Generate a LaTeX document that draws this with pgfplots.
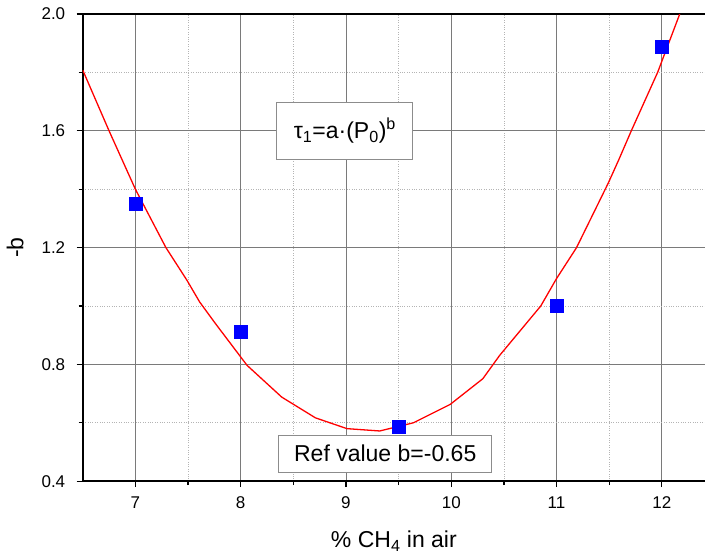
\documentclass[border=0pt]{standalone}
\usepackage{fontspec}
\setmainfont{Liberation Sans}
\usepackage{pgfplots}
\pgfplotsset{compat=1.18}
\definecolor{majgrid}{HTML}{7A7A7A}
\definecolor{mingrid}{HTML}{B4B4B4}
\definecolor{boxline}{HTML}{8C8C8C}
\begin{document}
\begin{tikzpicture}
\begin{axis}[
  scale only axis, width=622pt, height=467pt,
  xmin=6.5, xmax=12.41, ymin=0.4, ymax=2.0,
  xtick={7,8,9,10,11,12}, ytick={0.4,0.8,1.2,1.6,2.0},
  minor x tick num=1, minor y tick num=1,
  grid=both,
  major grid style={draw=majgrid, line width=0.9pt},
  minor grid style={draw=mingrid, dotted, line width=0.7pt},
  axis x line=box, axis y line=left,
  axis line style={-, line width=1.8pt, black},
  xtick pos=bottom, ytick pos=left,
  tick align=outside, major tick length=6pt, minor tick length=4pt,
  tick style={black, line width=1.2pt},
  yticklabel style={/pgf/number format/fixed, /pgf/number format/fixed zerofill,
    /pgf/number format/precision=1, xshift=-8pt},
  /pgf/number format/assume math mode=true,
  tick label style={font=\fontsize{17}{20}\selectfont},
  xticklabel style={yshift=-6pt},
  label style={font=\fontsize{23}{27}\selectfont},
  xlabel={\% CH\textsubscript{4} in air},
  ylabel={-b},
  xlabel style={yshift=-15pt},
  ylabel style={yshift=11pt},
]
\addplot[red, line width=1.3pt] coordinates {
  (6.50,1.808) (6.75,1.600) (7.00,1.400) (7.29,1.200) (7.49,1.088)
  (7.61,1.014) (7.76,0.940) (8.06,0.797) (8.39,0.688) (8.71,0.617)
  (9.01,0.580) (9.32,0.572) (9.64,0.600) (9.99,0.663) (10.30,0.751)
  (10.46,0.831) (10.85,1.000) (11.00,1.094) (11.19,1.200) (11.49,1.420)
  (11.59,1.500) (11.71,1.600) (11.96,1.800) (12.17,2.000)
};
\addplot[only marks, mark=square*, mark size=6.5pt, color=blue, fill=blue] coordinates {
  (7,1.351) (8,0.911) (9.5,0.585) (11,1.0) (12,1.888)
};
\node[draw=boxline, fill=white, line width=0.9pt, minimum width=136pt, minimum height=57pt, inner sep=0pt,
  font=\fontsize{23}{27}\selectfont] at (axis cs:8.99,1.601)
  {τ\textsubscript{1}=a·(P\textsubscript{0})\textsuperscript{b}};
\node[draw=boxline, fill=white, line width=0.9pt, minimum width=213pt, minimum height=37pt, inner sep=0pt,
  font=\fontsize{23}{27}\selectfont] at (axis cs:9.373,0.494)
  {Ref value b=-0.65};
\end{axis}
\pgfresetboundingbox
\path[use as bounding box] ([xshift=-82.7pt,yshift=-76.3pt]current axis.south west)
  rectangle ([yshift=14pt]current axis.north east);
\end{tikzpicture}
\end{document}
